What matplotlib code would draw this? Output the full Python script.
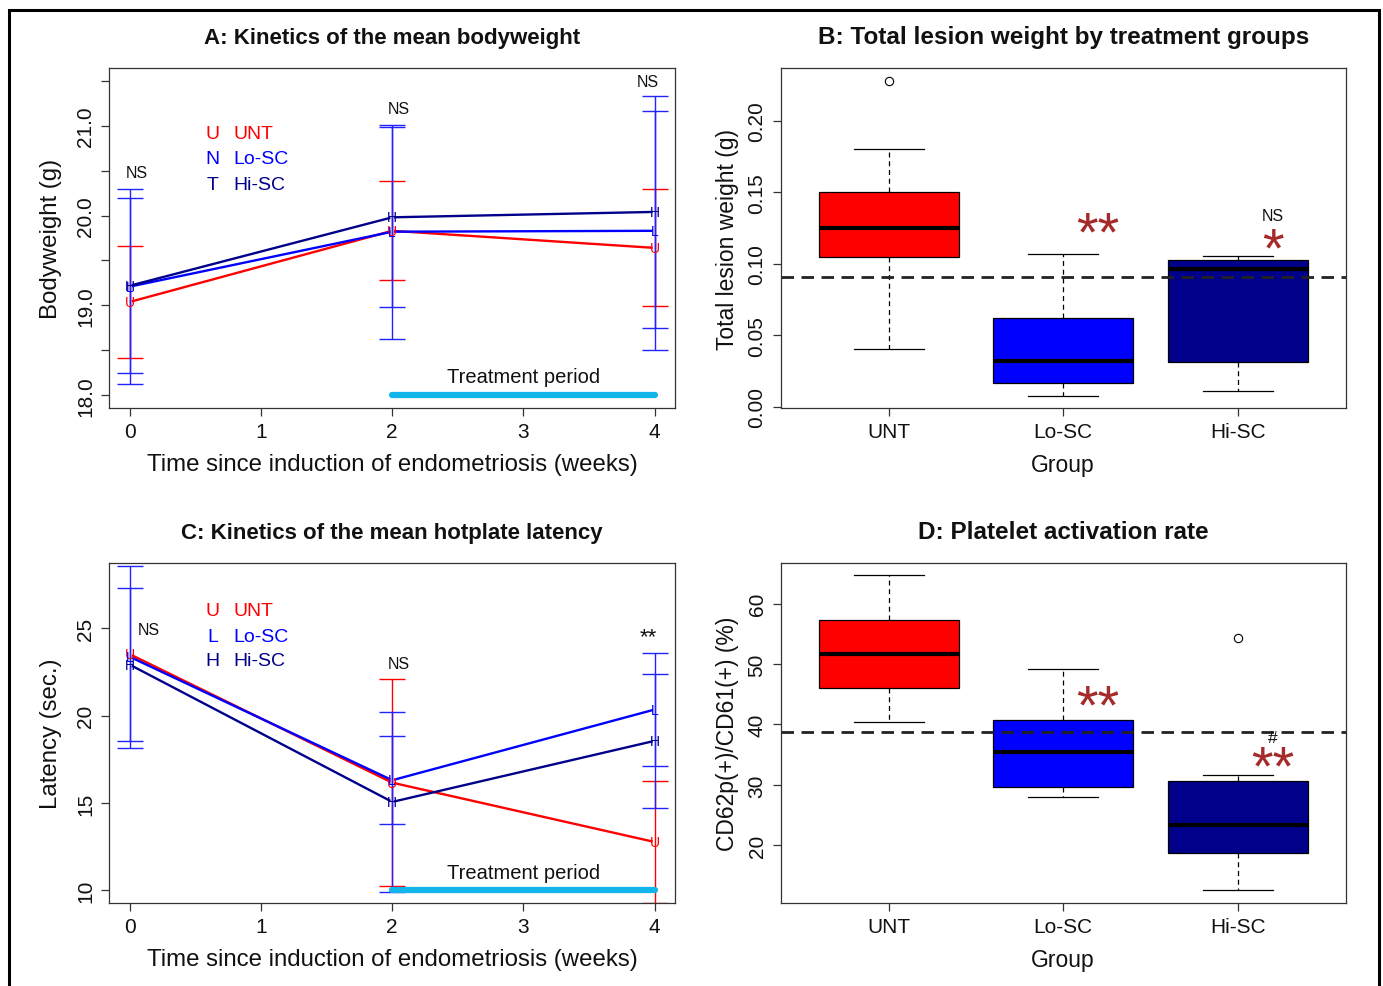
import numpy as np
import matplotlib
matplotlib.use('Agg')
import matplotlib.pyplot as plt
from matplotlib.patches import Rectangle

plt.rcParams['font.family'] = ['Liberation Sans', 'DejaVu Sans']

# === DATA ===
weeks = [0, 2, 4]
groups = ['UNT', 'Lo-SC', 'Hi-SC']
line_colors = ['#FF0000', '#0000FF', '#00008B']
bar_colors = ['#FF0000', '#2222FF', '#2222FF']
point_letters = ['U', 'L', 'H']

# A: bodyweight (g), mean and sd per week
bw_unt = [19.04, 19.83, 19.64]
bw_unt_sd = [0.62, 0.55, 0.65]
bw_lo = [19.21, 19.82, 19.83]
bw_lo_sd = [1.08, 1.19, 1.33]
bw_hi = [19.22, 19.98, 20.04]
bw_hi_sd = [0.97, 1.00, 1.29]
bw_sig = ['NS', 'NS', 'NS']

# C: hotplate latency (sec), mean and sd per week
lat_unt = [23.5, 16.16, 12.77]
lat_unt_sd = [np.nan, 5.9, 3.5]
lat_lo = [23.35, 16.3, 20.34]
lat_lo_sd = [5.2, 2.52, 3.21]
lat_hi = [22.9, 15.06, 18.55]
lat_hi_sd = [4.37, 5.13, 3.85]
lat_sig = ['NS', 'NS', '**']

# B: total lesion weight (g): whisker low, q1, median, q3, whisker high
lesion_unt = [0.040, 0.105, 0.125, 0.150, 0.180]
lesion_lo = [0.0077, 0.0163, 0.0322, 0.0622, 0.1065]
lesion_hi = [0.011, 0.031, 0.096, 0.1028, 0.1051]
lesion_outliers = [[0.228], [], []]
lesion_ref = 0.0904

# D: platelet activation (%)
plt_unt = [40.4, 46.0, 51.7, 57.3, 64.7]
plt_lo = [28.0, 29.6, 35.5, 40.8, 49.2]
plt_hi = [12.5, 18.7, 23.3, 30.7, 31.6]
plt_outliers = [[], [], [54.3]]
plt_ref = 38.7

box_colors = ['#FF0000', '#0000FF', '#00008B']
TXT = '#111111'
EDGE = '#333333'
STAR = '#A52A2A'

fig = plt.figure(figsize=(13.83, 9.87), dpi=100)
W, H = 1383, 987


def add_ax(x0, y0, x1, y1):
    a = fig.add_axes([x0 / W, 1 - y1 / H, (x1 - x0) / W, (y1 - y0) / H])
    for s in a.spines.values():
        s.set_color(EDGE)
        s.set_linewidth(0.9)
    a.tick_params(direction='out', length=6, width=0.9, color=EDGE,
                  labelsize=15, labelcolor=TXT, pad=4)
    return a


def style_yticks(a):
    for lab in a.get_yticklabels():
        lab.set_va('center')
        lab.set_rotation(90)


def gap_line(a, xs, ys, color, gap=8):
    # R type="b": line segments stop short of the point symbols
    pts = a.transData.transform(np.column_stack([xs, ys]))
    inv = a.transData.inverted()
    for p, q in zip(pts[:-1], pts[1:]):
        d = q - p
        u = d / np.hypot(*d)
        seg = inv.transform([p + u * gap, q - u * gap])
        a.plot(seg[:, 0], seg[:, 1], color=color, lw=1.7, solid_capstyle='butt')


def kinetics(a, series, sds, sig, sig_pos, legend_letters, legend_y, treat_y, text_y):
    for (m, s), c in zip(zip(series, sds), bar_colors):
        a.errorbar(weeks, m, yerr=s, fmt='none', ecolor=c, elinewidth=1.0,
                   capsize=9.5, capthick=1.0, zorder=2)
    for m, c, l in zip(series, line_colors, point_letters):
        gap_line(a, weeks, m, c)
        for x, y in zip(weeks, m):
            a.text(x, y, l, color=c, fontsize=10, ha='center', va='center', zorder=4)
    for t, (x, y) in zip(sig, sig_pos):
        if t == '**':
            a.annotate(t, (x, y), xytext=(0, -9), textcoords='offset points',
                       ha='center', va='baseline', fontsize=16, color=TXT)
        else:
            a.text(x, y, t, ha='center', va='center', fontsize=11.5, color=TXT)
    for l, g, c, y in zip(legend_letters, groups, line_colors, legend_y):
        a.text(0.63, y, l, color=c, fontsize=14, ha='center', va='center')
        a.text(0.79, y, g, color=c, fontsize=14, ha='left', va='center')
    a.plot([2, 4], [treat_y, treat_y], color='#12B5EA', lw=4.5, solid_capstyle='round')
    a.text(3, text_y, 'Treatment period', ha='center', va='center', fontsize=14.5, color=TXT)
    a.set_xlim(-0.16, 4.16)
    a.set_xticks([0, 1, 2, 3, 4])
    a.set_xlabel('Time since induction of endometriosis (weeks)', fontsize=17.3,
                 color=TXT, labelpad=8.5)


def boxes(a, stats_list, outliers, ref, stars):
    stats = []
    for s, o in zip(stats_list, outliers):
        stats.append(dict(whislo=s[0], q1=s[1], med=s[2], q3=s[3], whishi=s[4], fliers=o))
    bp = a.bxp(stats, positions=[1, 2, 3], widths=0.8, capwidths=0.4, patch_artist=True,
               boxprops=dict(edgecolor='black', linewidth=0.9),
               medianprops=dict(color='black', linewidth=3),
               whiskerprops=dict(color='black', linewidth=0.9, linestyle=(0, (4, 3))),
               capprops=dict(color='black', linewidth=0.9),
               flierprops=dict(marker='o', markerfacecolor='none', markeredgecolor='black',
                               markersize=6, markeredgewidth=0.8))
    for patch, c in zip(bp['boxes'], box_colors):
        patch.set_facecolor(c)
    a.axhline(ref, color='#222222', lw=2, linestyle=(0, (4.5, 2.7)), zorder=5)
    for t, x, y, c, fs in stars:
        if '*' in t:
            a.annotate(t, (x, y), xytext=(0, -0.49 * fs), textcoords='offset points',
                       ha='center', va='baseline', fontsize=fs, color=c, zorder=6)
        else:
            a.text(x, y, t, ha='center', va='center', fontsize=fs, color=c, zorder=6)
    a.set_xlim(0.38, 3.62)
    a.set_xticks([1, 2, 3])
    a.set_xticklabels(groups)
    a.set_xlabel('Group', fontsize=16.5, color=TXT, labelpad=9)


# === A: BODYWEIGHT ===
axA = add_ax(109, 69, 675.5, 409)
axA.set_ylim(17.86, 21.64)
kinetics(axA, [bw_unt, bw_lo, bw_hi], [bw_unt_sd, bw_lo_sd, bw_hi_sd], bw_sig,
         [(0.05, 20.48), (2.05, 21.19), (3.95, 21.49)],
         ['U', 'N', 'T'], [20.91, 20.63, 20.34], 18.0, 18.21)
axA.set_yticks(np.arange(18, 21.6, 0.5))
axA.set_yticklabels(['18.0', '', '19.0', '', '20.0', '', '21.0', ''])
axA.set_ylabel('Bodyweight (g)', fontsize=17.3, color=TXT, labelpad=10)
axA.set_title('A: Kinetics of the mean bodyweight', fontsize=16, fontweight='bold',
              color=TXT, pad=18)
style_yticks(axA)

# === B: LESION WEIGHT ===
axB = add_ax(780.5, 69, 1346, 409)
axB.set_ylim(-0.001, 0.237)
boxes(axB, [lesion_unt, lesion_lo, lesion_hi], lesion_outliers, lesion_ref,
      [('**', 2.2, 0.129, STAR, 40), ('NS', 3.2, 0.134, TXT, 11.5),
       ('*', 3.2, 0.118, STAR, 40)])
axB.set_yticks([0, 0.05, 0.10, 0.15, 0.20])
axB.set_yticklabels(['0.00', '0.05', '0.10', '0.15', '0.20'])
axB.set_ylabel('Total lesion weight (g)', fontsize=16.5, color=TXT, labelpad=6)
axB.set_title('B: Total lesion weight by treatment groups', fontsize=17.5,
              fontweight='bold', color=TXT, pad=18)
style_yticks(axB)

# === C: HOTPLATE LATENCY ===
axC = add_ax(109, 564, 675.5, 904)
axC.set_ylim(9.28, 28.72)
kinetics(axC, [lat_unt, lat_lo, lat_hi], [lat_unt_sd, lat_lo_sd, lat_hi_sd], lat_sig,
         [(0.14, 24.9), (2.05, 22.98), (3.95, 24.9)],
         ['U', 'L', 'H'], [26.03, 24.54, 23.13], 10.0, 11.05)
axC.set_yticks([10, 15, 20, 25])
axC.set_ylabel('Latency (sec.)', fontsize=17.3, color=TXT, labelpad=10)
axC.set_title('C: Kinetics of the mean hotplate latency', fontsize=16,
              fontweight='bold', color=TXT, pad=18)
style_yticks(axC)

# === D: PLATELET ACTIVATION ===
axD = add_ax(780.5, 564, 1346, 904)
axD.set_ylim(10.42, 66.76)
boxes(axD, [plt_unt, plt_lo, plt_hi], plt_outliers, plt_ref,
      [('**', 2.2, 44.8, STAR, 40), ('#', 3.2, 37.8, TXT, 12.5),
       ('**', 3.2, 34.8, STAR, 40)])
axD.set_yticks([20, 30, 40, 50, 60])
axD.set_ylabel('CD62p(+)/CD61(+) (%)', fontsize=16.5, color=TXT, labelpad=6)
axD.set_title('D: Platelet activation rate', fontsize=17.5, fontweight='bold',
              color=TXT, pad=18)
style_yticks(axD)

# outer frame (open at the bottom)
fig.add_artist(Rectangle((9 / W, -0.02), (1379 - 9) / W, 1.02 - 10.5 / H,
                         transform=fig.transFigure, fill=False, lw=2.2, ec='black'))

fig.savefig('out.png', dpi=100, facecolor='white')
